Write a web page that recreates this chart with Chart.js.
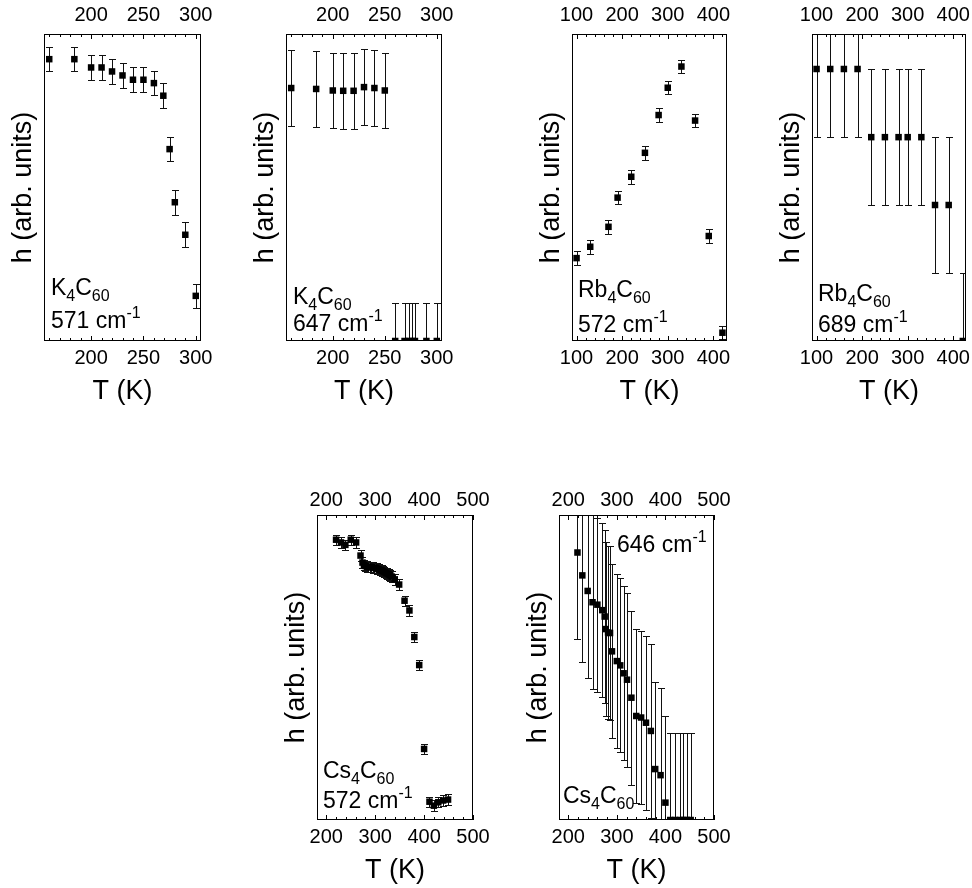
<!DOCTYPE html>
<html>
<head>
<meta charset="utf-8">
<script src="https://cdn.jsdelivr.net/npm/chart.js"></script>
<style>
  html, body { margin: 0; padding: 0; background: #fff; }
  #page { position: relative; width: 972px; height: 888px; overflow: hidden; }
  #page canvas { position: absolute; }
</style>
</head>
<body>
<div id="page"></div>
<script>
const FONT = '"Liberation Sans", Arial, sans-serif'

// K4C60, 571 cm-1
const k571T = [160, 184, 200, 210, 220, 230, 240, 250, 260, 269, 275, 280, 290, 300]
const k571H = [91.8, 91.8, 89.1, 89.1, 87.8, 86.5, 85.1, 85.1, 84.0, 79.9, 62.5, 45.2, 34.6, 14.7]
const k571Err = [4, 4, 4, 4, 4, 4, 4, 4, 4, 4, 4, 4, 4, 4]

// K4C60, 647 cm-1
const k647T = [160, 184, 200, 210, 220, 230, 240, 250, 260, 269, 273, 276, 279, 290, 300]
const k647H = [82.4, 82.1, 81.6, 81.5, 81.5, 82.7, 82.4, 81.6, 0, 0, 0, 0, 0, 0, 0]
const k647Err = [12.3, 12.3, 12.3, 12.3, 12.3, 12.3, 12.3, 12.3, 12.3, 12.3, 12.3, 12.3, 12.3, 12.3, 12.3]

// Rb4C60, 572 cm-1
const rb572T = [100, 130, 170, 190, 220, 250, 280, 300, 330, 360, 390, 420]
const rb572H = [27.0, 30.7, 37.2, 46.7, 53.5, 61.3, 73.6, 82.5, 89.4, 71.8, 34.2, 2.7]
const rb572Err = [2.2, 2.2, 2.2, 2.2, 2.2, 2.2, 2.2, 2.2, 2.2, 2.2, 2.2, 2.2]

// Rb4C60, 689 cm-1
const rb689T = [100, 130, 160, 190, 220, 250, 280, 300, 330, 360, 390, 421]
const rb689H = [88.6, 88.6, 88.6, 88.6, 66.4, 66.4, 66.4, 66.4, 66.4, 44.3, 44.3, 0]
const rb689Err = [22.2, 22.2, 22.2, 22.2, 22.2, 22.2, 22.2, 22.2, 22.2, 22.2, 22.2, 22.2]

// Cs4C60, 572 cm-1
const cs572T = [220, 230, 239, 250, 261, 270, 274, 277, 280, 283, 286, 289, 292, 295, 298, 301, 304, 307, 310,
  313, 316, 319, 322, 325, 328, 331, 334, 340, 349, 360, 370, 380, 390, 400, 411, 420, 429, 439, 449]
const cs572H = [91.9, 91.0, 90.2, 91.9, 91.0, 86.7, 84.4, 83.6, 83.3, 83.1, 83.0, 82.9, 82.9, 82.8, 82.7, 82.6, 82.4, 82.2, 82.0,
  81.8, 81.6, 81.3, 81.0, 80.8, 80.5, 80.2, 79.8, 78.9, 77.2, 71.9, 68.7, 60.0, 50.8, 23.3, 6.0, 4.7, 5.8, 6.4, 6.7]
const cs572Err = cs572T.map(() => 1.7)

// Cs4C60, 646 cm-1
const cs646T = [219, 229, 240, 250, 260, 270, 275, 277, 282, 286, 290, 300, 307, 314, 321, 330, 340, 350, 360, 370,
  379, 390, 400, 410, 420, 430, 437, 444, 452]
const cs646H = [87.7, 80.2, 75.1, 71.4, 70.6, 68.8, 66.7, 62.6, 61.5, 61.3, 55.3, 52.1, 50.7, 48.1, 46.0, 40.1, 34.1, 33.6, 31.9, 29.2,
  16.7, 14.7, 5.7, 0, 0, 0, 0, 0, 0]
const cs646Err = cs646T.map(() => 28.5)

const ticksK = [200, 250, 300]
const ticksRb = [100, 200, 300, 400]
const ticksCs = [200, 300, 400, 500]

const panels = [
  { box: [44, 34, 201, 341], range: [155, 305], ticks: ticksK, minor: 10, T: k571T, H: k571H, E: k571Err, topPad: 7,
    text: [
      { x: 7, y: -46, ref: 'B', parts: [['K', 0], ['4', 1], ['C', 0], ['60', 1]] },
      { x: 7, y: -13, ref: 'B', parts: [['571 cm', 0], ['-1', 2]] }
    ] },
  { box: [286, 34, 442, 341], range: [155, 305], ticks: ticksK, minor: 10, T: k647T, H: k647H, E: k647Err, topPad: 7,
    text: [
      { x: 7, y: -37, ref: 'B', parts: [['K', 0], ['4', 1], ['C', 0], ['60', 1]] },
      { x: 7, y: -10, ref: 'B', parts: [['647 cm', 0], ['-1', 2]] }
    ] },
  { box: [572, 34, 727, 341], range: [90, 430], ticks: ticksRb, minor: 20, T: rb572T, H: rb572H, E: rb572Err, topPad: 7,
    text: [
      { x: 6, y: -44, ref: 'B', parts: [['Rb', 0], ['4', 1], ['C', 0], ['60', 1]] },
      { x: 6, y: -9, ref: 'B', parts: [['572 cm', 0], ['-1', 2]] }
    ] },
  { box: [812, 34, 966, 341], range: [90, 428], ticks: ticksRb, minor: 20, T: rb689T, H: rb689H, E: rb689Err, topPad: 7,
    text: [
      { x: 6, y: -40, ref: 'B', parts: [['Rb', 0], ['4', 1], ['C', 0], ['60', 1]] },
      { x: 6, y: -9, ref: 'B', parts: [['689 cm', 0], ['-1', 2]] }
    ] },
  { box: [317, 515, 473, 820], range: [181, 500], ticks: ticksCs, minor: 20, T: cs572T, H: cs572H, E: cs572Err, topPad: 3,
    text: [
      { x: 6, y: -42, ref: 'B', parts: [['Cs', 0], ['4', 1], ['C', 0], ['60', 1]] },
      { x: 6, y: -12, ref: 'B', parts: [['572 cm', 0], ['-1', 2]] }
    ] },
  { box: [559, 515, 714, 820], range: [181, 500], ticks: ticksCs, minor: 20, T: cs646T, H: cs646H, E: cs646Err, topPad: 3,
    text: [
      { x: 58, y: 37, ref: 'T', parts: [['646 cm', 0], ['-1', 2]] },
      { x: 4, y: -17, ref: 'B', parts: [['Cs', 0], ['4', 1], ['C', 0], ['60', 1]] }
    ] }
]

function drawRich(ctx, x, y, parts) {
  let cx = x
  for (const [s, kind] of parts) {
    const size = kind === 0 ? 23 : 16
    const dy = kind === 1 ? 6 : kind === 2 ? -10 : 0
    ctx.font = size + 'px ' + FONT
    ctx.fillText(s, cx, y + dy)
    cx += ctx.measureText(s).width
  }
}

function decoFor(p) {
  return {
    id: 'deco',
    beforeDatasetsDraw(chart) {
      const { ctx, chartArea: a, scales: { x, y } } = chart
      ctx.save()
      ctx.beginPath()
      ctx.rect(a.left, a.top, a.right - a.left, a.bottom - a.top)
      ctx.clip()
      ctx.strokeStyle = '#111'
      ctx.lineWidth = 1
      p.T.forEach((t, i) => {
        const px = Math.round(x.getPixelForValue(t)) + 0.5
        const y1 = Math.round(y.getPixelForValue(p.H[i] + p.E[i])) + 0.5
        const y2 = Math.round(y.getPixelForValue(p.H[i] - p.E[i])) + 0.5
        ctx.beginPath()
        ctx.moveTo(px, y1); ctx.lineTo(px, y2)
        ctx.moveTo(px - 3.5, y1); ctx.lineTo(px + 3.5, y1)
        ctx.moveTo(px - 3.5, y2); ctx.lineTo(px + 3.5, y2)
        ctx.stroke()
      })
      ctx.restore()
    },
    afterDraw(chart) {
      const { ctx, chartArea: a, scales: { x } } = chart
      ctx.save()
      ctx.strokeStyle = '#000'
      ctx.lineWidth = 1
      ctx.strokeRect(a.left + 0.5, a.top + 0.5, a.right - a.left - 1, a.bottom - a.top - 1)
      const [lo, hi] = p.range
      ctx.beginPath()
      for (let v = Math.ceil(lo / p.minor) * p.minor; v <= hi; v += p.minor) {
        const px = Math.round(x.getPixelForValue(v)) + 0.5
        const len = p.ticks.includes(v) ? 5 : 3
        ctx.moveTo(px, a.top); ctx.lineTo(px, a.top + len)
        ctx.moveTo(px, a.bottom); ctx.lineTo(px, a.bottom - len)
      }
      ctx.stroke()
      ctx.fillStyle = '#000'
      ctx.textBaseline = 'alphabetic'
      ctx.textAlign = 'left'
      p.text.forEach(t => {
        const ty = t.ref === 'B' ? a.bottom + t.y : a.top + t.y
        drawRich(ctx, a.left + t.x, ty, t.parts)
      })
      ctx.restore()
    }
  }
}

const page = document.getElementById('page')
const tickFont = { family: FONT, size: 20 }
const titleFont = { family: FONT, size: 27 }

panels.forEach(p => {
  const [L, T, R, B] = p.box
  const padR = 26
  const cv = document.createElement('canvas')
  cv.width = 44 + (R - L) + padR
  cv.height = 34 + (B - T) + 70
  cv.style.left = (L - 44) + 'px'
  cv.style.top = (T - 34) + 'px'
  page.appendChild(cv)

  const xCommon = {
    type: 'linear',
    min: p.range[0],
    max: p.range[1],
    grid: { display: false, drawTicks: false },
    border: { display: false },
    afterBuildTicks: s => { s.ticks = p.ticks.map(v => ({ value: v })) },
    ticks: { autoSkip: false, maxRotation: 0, color: '#000', font: tickFont }
  }

  new Chart(cv, {
    type: 'scatter',
    data: {
      datasets: [{
        data: p.T.map((t, i) => ({ x: t, y: p.H[i] })),
        pointStyle: 'rect',
        pointRadius: 4.6,
        backgroundColor: '#000',
        borderColor: '#000',
        borderWidth: 0,
        clip: 0
      }]
    },
    options: {
      responsive: false,
      animation: false,
      events: [],
      layout: { padding: { left: 0, top: 0, bottom: 0, right: padR } },
      plugins: { legend: { display: false }, tooltip: { enabled: false } },
      scales: {
        x: {
          ...xCommon,
          position: 'bottom',
          afterFit: s => { s.height = 70 },
          ticks: { ...xCommon.ticks, padding: 5 },
          title: { display: true, text: 'T (K)', color: '#000', font: titleFont, padding: { top: 0, bottom: 3 } }
        },
        x2: {
          ...xCommon,
          position: 'top',
          afterFit: s => { s.height = 34 },
          ticks: { ...xCommon.ticks, padding: p.topPad }
        },
        y: {
          type: 'linear',
          min: 0,
          max: 100,
          afterFit: s => { s.width = 44 },
          grid: { display: false, drawTicks: false },
          border: { display: false },
          ticks: { display: false },
          title: { display: true, text: 'h (arb. units)', color: '#000', font: titleFont, padding: { top: 7, bottom: 0 } }
        }
      }
    },
    plugins: [decoFor(p)]
  })
})
</script>
</body>
</html>
